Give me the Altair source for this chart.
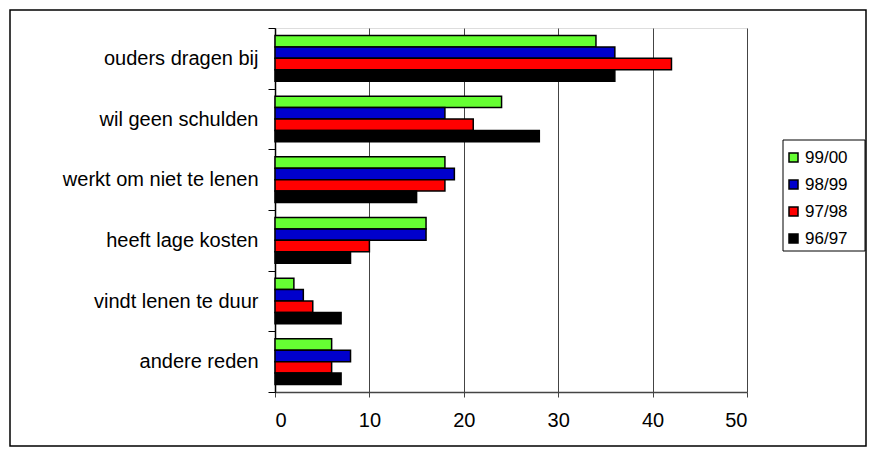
import altair as alt
import pandas as pd

categories = ["ouders dragen bij", "wil geen schulden", "werkt om niet te lenen",
              "heeft lage kosten", "vindt lenen te duur", "andere reden"]
series = ["99/00", "98/99", "97/98", "96/97"]
colors = ["#66FF33", "#0000CC", "#FF0000", "#000000"]
v_9900 = [34, 24, 18, 16, 2, 6]
v_9899 = [36, 18, 19, 16, 3, 8]
v_9798 = [42, 21, 18, 10, 4, 6]
v_9697 = [36, 28, 15, 8, 7, 7]
x_ticks = [0, 10, 20, 30, 40, 50]

rows = []
for s, vals in zip(series, [v_9900, v_9899, v_9798, v_9697]):
    for c, v in zip(categories, vals):
        rows.append({"reden": c, "jaar": s, "waarde": v})
df = pd.DataFrame(rows)

FONT = "Liberation Sans"

bars = alt.Chart(df).mark_bar(stroke="black", strokeWidth=1.5).encode(
    x=alt.X("waarde:Q",
            scale=alt.Scale(domain=[0, 50], nice=False),
            axis=alt.Axis(title=None, values=x_ticks, grid=True, gridColor="#444444",
                          tickSize=5, tickColor="#444444", domainColor="#444444",
                          domainWidth=1.5, labelPadding=13, labelFontSize=20,
                          labelFont=FONT, labelColor="black")),
    y=alt.Y("reden:N", sort=categories,
            scale=alt.Scale(paddingInner=0, paddingOuter=0),
            axis=alt.Axis(title=None, tickBand="extent", tickSize=7, tickColor="black",
                          domainColor="black", domainWidth=1.5, labelPadding=10,
                          labelLimit=400, labelFontSize=20, labelFont=FONT,
                          labelColor="black", grid=False)),
    yOffset=alt.YOffset("jaar:N", sort=series,
                        scale=alt.Scale(paddingInner=0, paddingOuter=0.66)),
    color=alt.Color("jaar:N", sort=series,
                    scale=alt.Scale(domain=series, range=colors),
                    legend=alt.Legend(title=None, orient="none", legendX=510, legendY=121,
                                      symbolType="square", symbolSize=81,
                                      symbolStrokeColor="black", symbolStrokeWidth=1.5,
                                      labelFontSize=17, labelFont=FONT, labelColor="black",
                                      labelOffset=3, rowPadding=9, padding=0)),
)

one = pd.DataFrame({"a": [0]})
outer = alt.Chart(one).mark_rect(fill=None, stroke="black", strokeWidth=1.5, clip=False).encode(
    x=alt.value(-265), x2=alt.value(591), y=alt.value(-18), y2=alt.value(418))
legend_box = alt.Chart(one).mark_rect(fill="white", stroke="black", strokeWidth=1, clip=False).encode(
    x=alt.value(508), x2=alt.value(590), y=alt.value(112), y2=alt.value(223))

chart = alt.layer(outer, legend_box, bars).properties(
    width=472, height=364,
    autosize=alt.AutoSizeParams(type="none"),
    padding={"left": 267, "top": 20, "right": 121, "bottom": 55},
).configure_view(stroke="#888888", strokeWidth=2).configure(background="white")

chart.save("out.html", embed_options={"renderer": "svg", "actions": False})
